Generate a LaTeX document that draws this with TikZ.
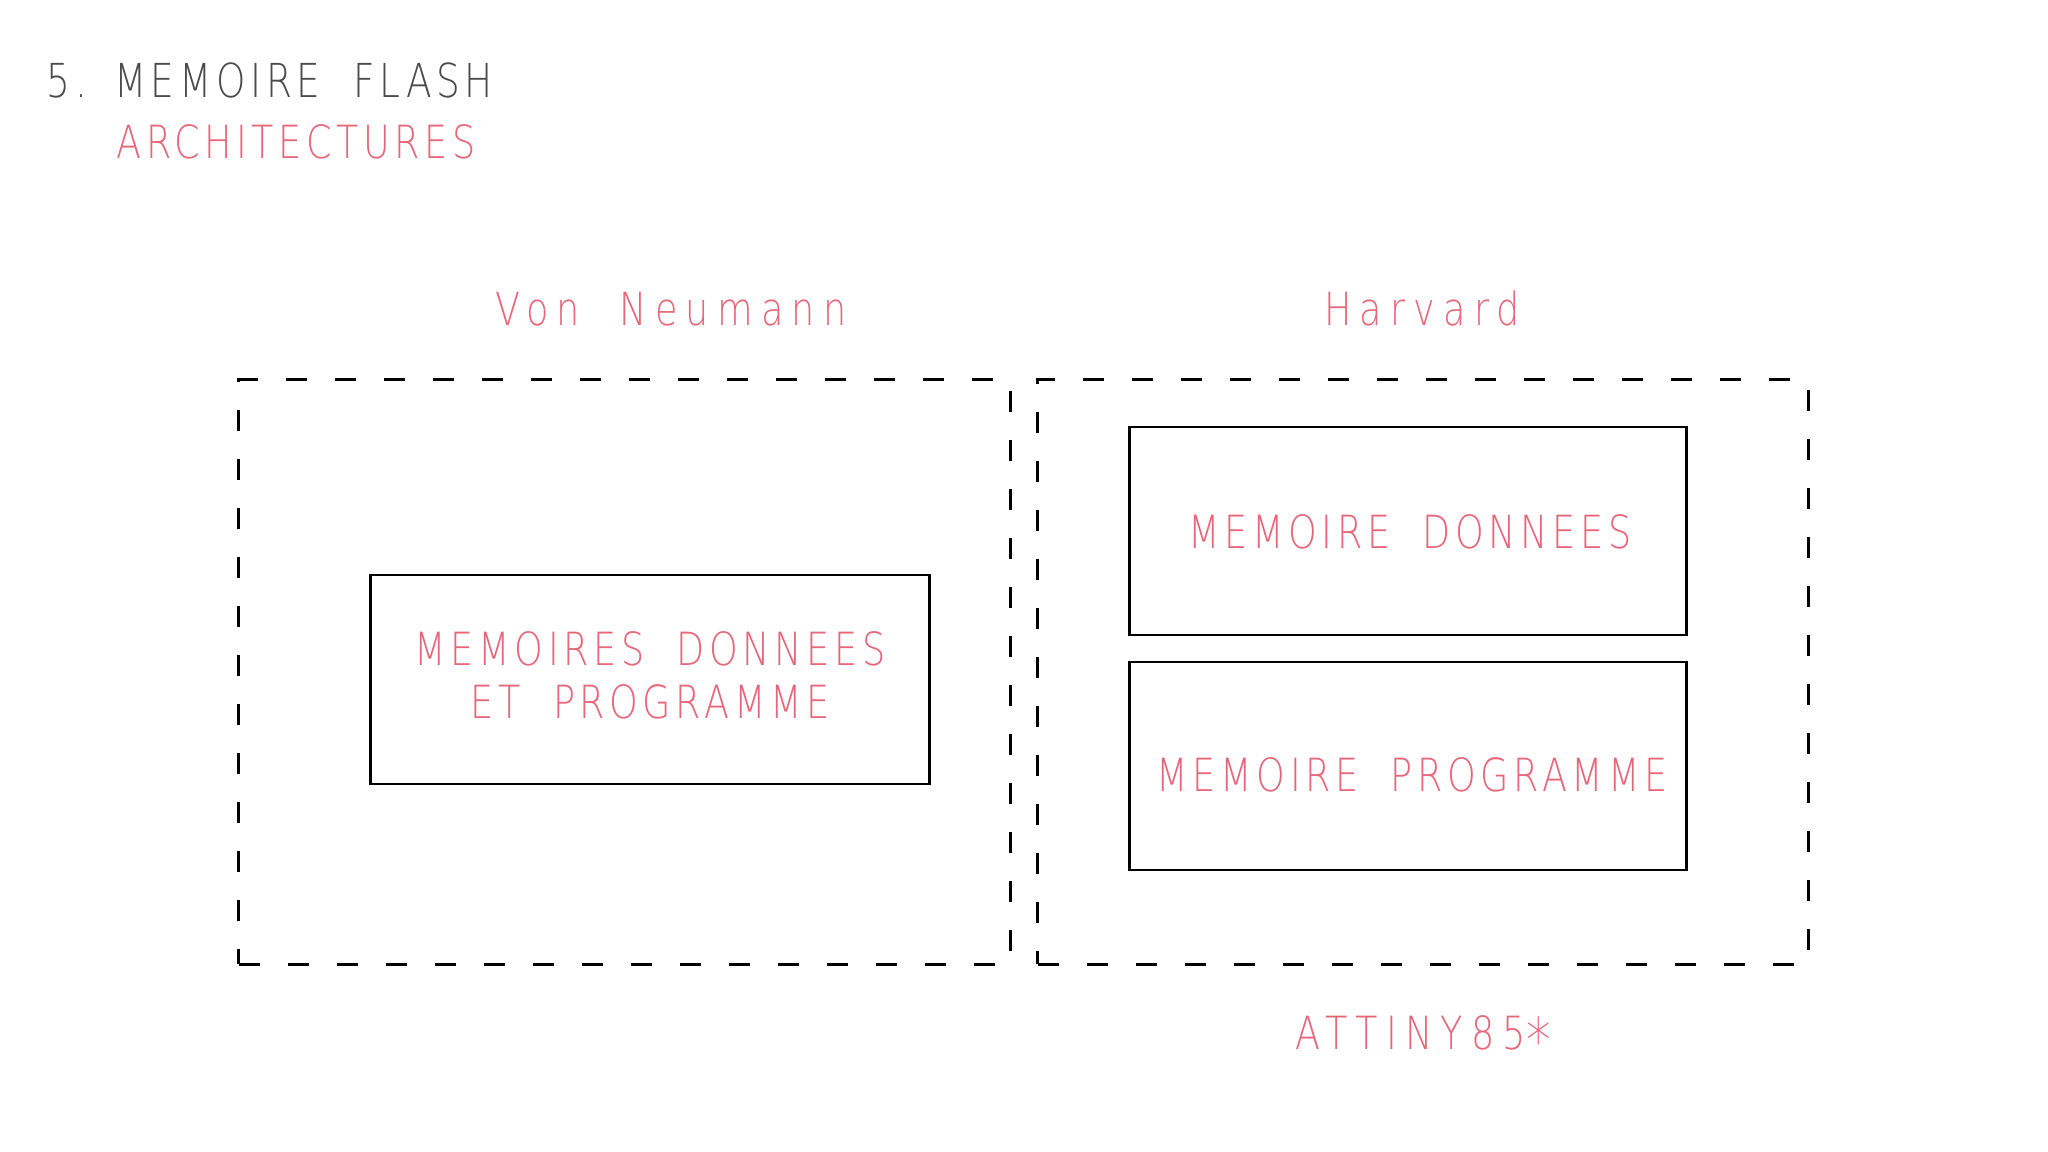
\documentclass[tikz,border=0pt]{standalone}
\usepackage{fontspec}
\IfFontExistsTF{DejaVu Sans ExtraLight}{%
  \newfontfamily\cadfont[FakeStretch=0.8,LetterSpace=10,WordSpace=2]{DejaVu Sans ExtraLight}%
  \newfontfamily\cadwide[FakeStretch=0.8,LetterSpace=18,WordSpace=2]{DejaVu Sans ExtraLight}}{%
  \newfontfamily\cadfont[FakeStretch=0.8,LetterSpace=10,WordSpace=2]{DejaVu Sans}%
  \newfontfamily\cadwide[FakeStretch=0.8,LetterSpace=18,WordSpace=2]{DejaVu Sans}}
\definecolor{cadred}{HTML}{E6677A}
\definecolor{cadgrey}{HTML}{4A4A4A}
\tikzset{
  txt/.style={font=\cadfont\fontsize{13}{17}\selectfont, text=cadred, inner sep=0pt},
  wtxt/.style={font=\cadwide\fontsize{13}{17}\selectfont, text=cadred, inner sep=0pt},
  ttl/.style={font=\cadfont\fontsize{13.3}{17}\selectfont, text=cadgrey, inner sep=0pt},
  dashbox/.style={draw=black, line width=0.85pt, dash pattern=on 0.21cm off 0.28cm, inner sep=0pt},
  membox/.style={draw=black, line width=0.8pt, inner sep=0pt, minimum width=5.57cm, minimum height=2.08cm},
}
\begin{document}
\begin{tikzpicture}[x=0.01cm,y=-0.01cm]
\useasboundingbox[fill=white] (0,0) rectangle (2048,1152);
% titles
\node[ttl, anchor=base west] (title) at (46,98) {5.\hspace{-0.25em} MEMOIRE FLASH};
\node[txt, anchor=base west] (sub) at (116,159) {ARCHITECTURES};
\node[wtxt, anchor=base] (vn) at (671,326) {Von Neumann};
\node[wtxt, anchor=base] (hv) at (1422,326) {Harvard};
% dashed frames
\node[dashbox, minimum width=7.71cm, minimum height=5.84cm] (left) at (624.5,672) {};
\node[dashbox, minimum width=7.70cm, minimum height=5.84cm] (right) at (1423,672) {};
% memory boxes
\node[membox, minimum width=5.58cm, minimum height=2.09cm] (vnmem) at (650,679.5) {};
\node[membox] (data) at (1408,531) {};
\node[membox] (prog) at (1408,766) {};
% box texts
\node[txt, anchor=base] (vnl1) at (650,666) {MEMOIRES DONNEES};
\node[txt, anchor=base] (vnl2) at (650,718) {ET PROGRAMME};
\node[txt, anchor=base] (datal) at (1410,548) {MEMOIRE DONNEES};
\node[txt, anchor=base] (progl) at (1412,791) {MEMOIRE PROGRAMME};
% footer
\node[wtxt, anchor=base] (chip) at (1423,1049) {ATTINY85\raisebox{-0.3em}{\scalebox{1.35}{*}}};
\end{tikzpicture}
\end{document}
